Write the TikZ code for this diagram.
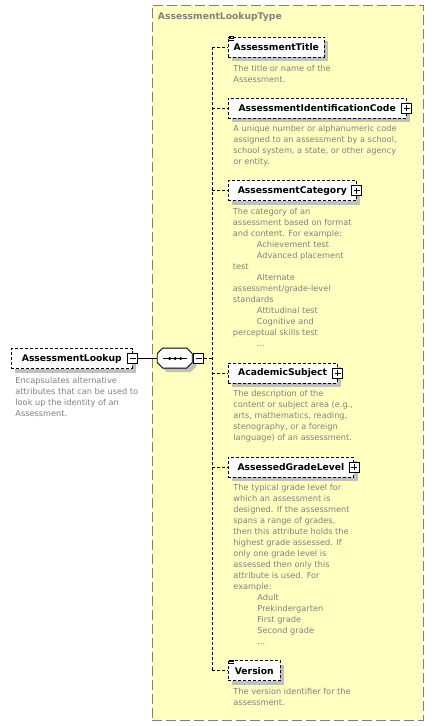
\documentclass[tikz,border=0pt]{standalone}
\usepackage{fontspec}
\setmainfont{DejaVu Sans}
\usetikzlibrary{shadows}

\definecolor{typefill}{RGB}{255,255,192}
\definecolor{docgray}{RGB}{128,128,128}
\definecolor{shadowgray}{RGB}{192,192,192}

\newcommand\docind{\hspace*{24pt}}

\tikzset{
  elem/.style={
    draw,
    dash pattern=on 3pt off 2pt,
    fill=white,
    anchor=west,
    minimum height=20pt,
    minimum width=#1,
    inner xsep=4pt,
    font=\fontsize{9.2}{11}\selectfont\bfseries,
    drop shadow={shadow xshift=4pt, shadow yshift=-4pt, fill=shadowgray, opacity=1}
  },
  doc/.style={
    anchor=north west,
    inner sep=0pt,
    align=left,
    text=docgray,
    font=\fontsize{8.2}{11}\selectfont
  },
  pm/.style={
    draw,
    solid,
    fill=white,
    minimum size=10pt,
    inner sep=0pt
  },
  plusbox/.style={
    pm,
    path picture={\draw ([yshift=-2pt]path picture bounding box.north) -- ([yshift=2pt]path picture bounding box.south)
      ([xshift=2pt]path picture bounding box.west) -- ([xshift=-2pt]path picture bounding box.east);}
  },
  minusbox/.style={
    pm,
    path picture={\draw ([xshift=2pt]path picture bounding box.west) -- ([xshift=-2pt]path picture bounding box.east);}
  },
  spine/.style={
    dash pattern=on 3pt off 2pt
  },
  typebox/.style={
    draw=docgray,
    fill=typefill,
    dash pattern=on 10pt off 4pt,
    anchor=north west,
    inner sep=0pt
  }
}

\begin{document}
\begin{tikzpicture}[x=1pt, y=-1pt, line width=0.9pt]
  \useasboundingbox (0,0) rectangle (433,726);

  \node[typebox, minimum width=271pt, minimum height=715pt] (lookuptype) at (151.5,5) {};
  \node[anchor=west, inner sep=0pt, text=docgray, font=\fontsize{9.2}{11}\selectfont\bfseries]
    (typename) at (157.5,17) {AssessmentLookupType};

  \node[elem=120.7pt] (lookup) at (11,358.5) {AssessmentLookup};
  \node[minusbox] (lookupminus) at (lookup.east) {};
  \node[doc] (lookupdoc) at (15,377.2) {Encapsulates alternative\\attributes that can be used to\\look up the identity of an\\Assessment.};

  % sequence compositor
  \node[minimum width=35pt, minimum height=20pt, inner sep=0pt] (seq) at (175.2,358.5) {};
  \foreach \s/\f/\d in {4/shadowgray/none,0/white/black}
    \filldraw[fill=\f, draw=\d] ([shift={(5.5+\s,\s)}]seq.north west) -- ++(24,0) -- ++(5.5,5.5) -- ++(0,9)
      -- ++(-5.5,5.5) -- ++(-24,0) -- ++(-5.5,-5.5) -- ++(0,-9) -- cycle;
  \node[minusbox, anchor=west] (seqminus) at (seq.east) {};
  \draw (lookupminus) -- (seq);
  \draw ([xshift=-12pt]seq.center) -- ([xshift=12pt]seq.center);
  \foreach \dx in {-5.5,0,5.5}
    \fill ([xshift=\dx pt]seq.center) circle (1.7pt);

  \coordinate (spinetop) at (212,47);
  \coordinate (spinebot) at (212,670.7);

  \node[elem=96.3pt] (title) at (227.7,47) {AssessmentTitle};
  \node[elem=178pt] (code) at (227.7,108) {AssessmentIdentificationCode};
  \node[plusbox] (codeplus) at (code.east) {};
  \node[elem=128.3pt] (category) at (227.7,190.7) {AssessmentCategory};
  \node[plusbox] (categoryplus) at (category.east) {};
  \node[elem=109pt] (subject) at (227.7,373.3) {AcademicSubject};
  \node[plusbox] (subjectplus) at (subject.east) {};
  \node[elem=125.6pt] (grade) at (227.7,467.3) {AssessedGradeLevel};
  \node[plusbox] (gradeplus) at (grade.east) {};
  \node[elem=52.3pt] (version) at (227.7,670.7) {Version};

  \draw[spine] (spinetop) -- (spinebot);
  \draw[spine] (seqminus.east) -- (seqminus.east -| spinetop);
  \foreach \e in {title,code,category,subject,grade,version}
    \draw[spine] (\e.west -| spinetop) -- (\e.west);

  \foreach \e in {title,version}
    \foreach \d in {-0.3,1.5,3.3}
      \draw[line width=0.7pt] ([shift={(1.5,\d)}]\e.north west) -- ++(5,0);

  \node[doc] (titledoc) at (233,64.5) {The title or name of the\\Assessment.};
  \node[doc] (codedoc) at (233,124.5) {A unique number or alphanumeric code\\assigned to an assessment by a school,\\school system, a state, or other agency\\or entity.};
  \node[doc] (categorydoc) at (232.5,208.2) {The category of an\\assessment based on format\\and content. For example:\\
    \docind Achievement test\\\docind Advanced placement\\test\\\docind Alternate\\assessment/grade-level\\standards\\
    \docind Attitudinal test\\\docind Cognitive and\\perceptual skills test\\\docind ...};
  \node[doc] (subjectdoc) at (233,390.2) {The description of the\\content or subject area (e.g.,\\arts, mathematics, reading,\\stenography, or a foreign\\language) of an assessment.};
  \node[doc] (gradedoc) at (233,483.8) {The typical grade level for\\which an assessment is\\designed. If the assessment\\spans a range of grades,\\then this attribute holds the\\highest grade assessed. If\\only one grade level is\\assessed then only this\\attribute is used. For\\example:\\
    \docind Adult\\\docind Prekindergarten\\\docind First grade\\\docind Second grade\\\docind ...};
  \node[doc] (versiondoc) at (233,688.2) {The version identifier for the\\assessment.};
\end{tikzpicture}
\end{document}
